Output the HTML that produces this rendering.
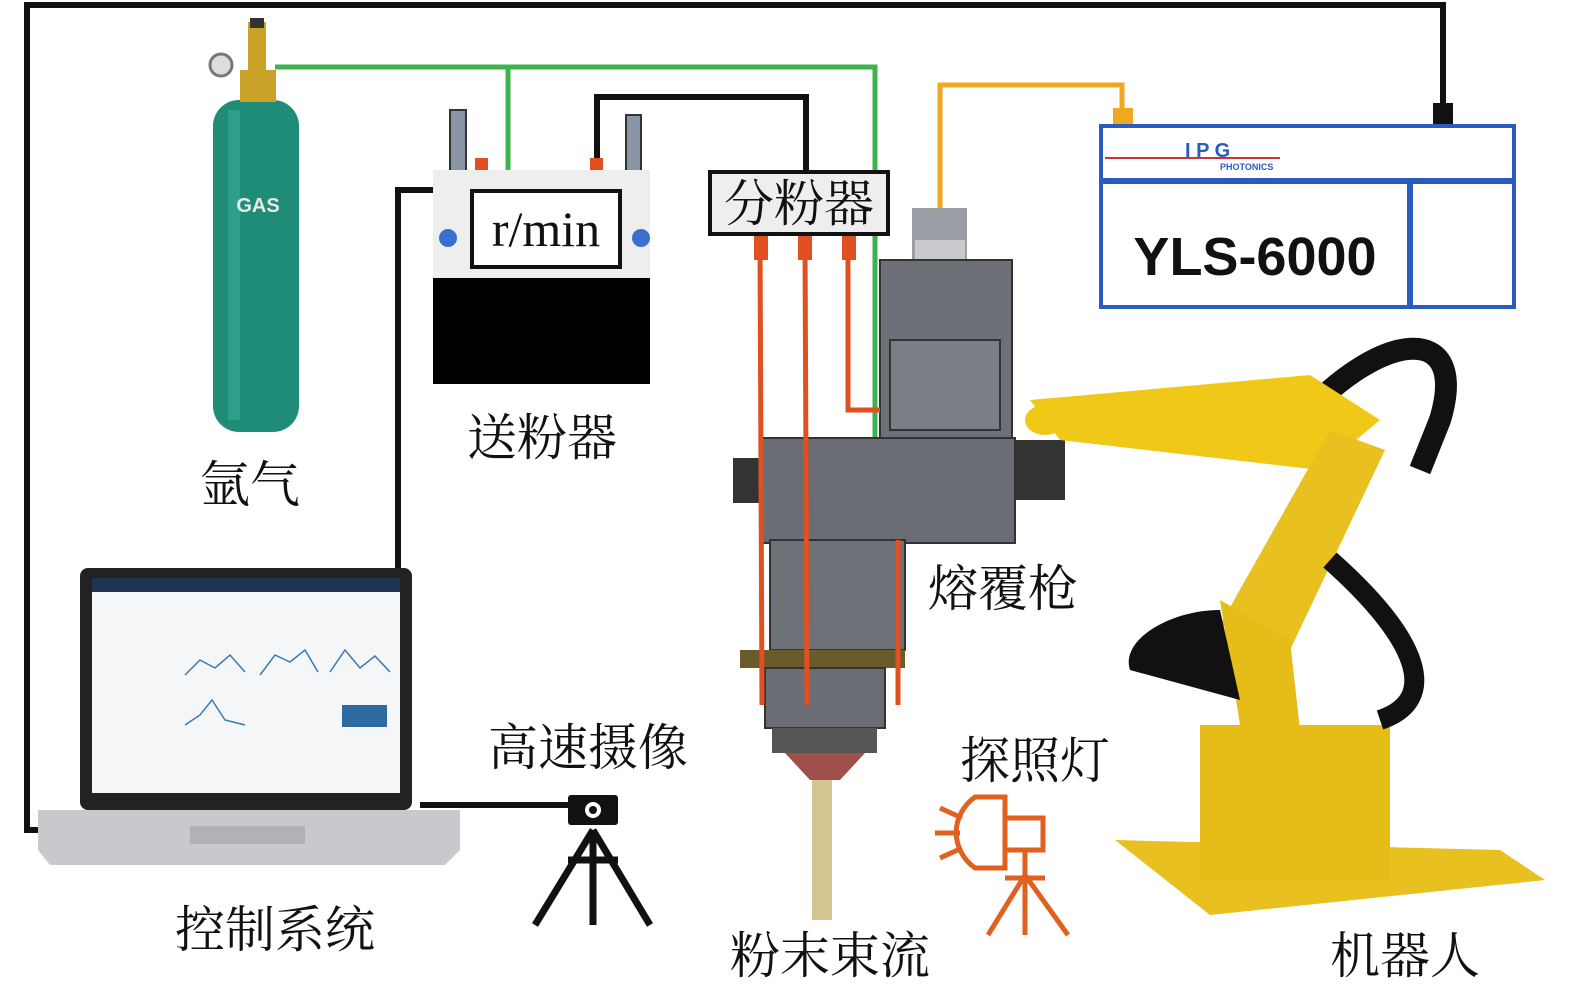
<!DOCTYPE html>
<html><head><meta charset="utf-8"><style>
html,body{margin:0;padding:0;background:#fff;width:1575px;height:993px;overflow:hidden}
svg{display:block}
.cn{font-family:"Liberation Serif","Noto Serif CJK SC",serif;font-size:50px;fill:#111}
</style></head><body>
<svg width="1575" height="993" viewBox="0 0 1575 993">
<polyline points="40,830 27,830 27,5 1443,5 1443,110" fill="none" stroke="#111" stroke-width="6"/>
<rect x="1433" y="103" width="20" height="22" fill="#111"/>
<rect x="213" y="100" width="86" height="332" rx="26" fill="#1f8c78"/>
<rect x="228" y="110" width="12" height="310" fill="#34a890" opacity="0.7"/>
<text x="258" y="212" font-family="Liberation Sans,sans-serif" font-weight="bold" font-size="20" fill="#e8e8e8" text-anchor="middle">GAS</text>
<rect x="240" y="70" width="36" height="32" fill="#c9a227"/>
<rect x="248" y="22" width="18" height="50" fill="#c9a227"/>
<rect x="250" y="18" width="14" height="10" fill="#333"/>
<circle cx="221" cy="65" r="11" fill="#ddd" stroke="#777" stroke-width="3"/>
<polyline points="275,67 875,67 875,700" fill="none" stroke="#3cb44b" stroke-width="5"/>
<line x1="508" y1="67" x2="508" y2="170" stroke="#3cb44b" stroke-width="5"/>
<polyline points="597,160 597,97 806,97 806,172" fill="none" stroke="#111" stroke-width="6"/>
<polyline points="398,570 398,190 433,190" fill="none" stroke="#111" stroke-width="6"/>
<rect x="450" y="110" width="16" height="62" fill="#8a96a8" stroke="#333" stroke-width="2"/>
<rect x="626" y="115" width="15" height="57" fill="#8a96a8" stroke="#333" stroke-width="2"/>
<rect x="475" y="158" width="13" height="14" fill="#e05020"/>
<rect x="590" y="158" width="13" height="14" fill="#e05020"/>
<rect x="433" y="170" width="217" height="110" fill="#eeeeee"/>
<rect x="433" y="278" width="217" height="106" fill="#000"/>
<rect x="472" y="191" width="148" height="76" fill="#fff" stroke="#111" stroke-width="4"/>
<text x="546" y="246" font-family="Liberation Serif,serif" font-size="50" text-anchor="middle" fill="#111">r/min</text>
<circle cx="448" cy="238" r="9" fill="#3a6fd0"/>
<circle cx="641" cy="238" r="9" fill="#3a6fd0"/>
<polyline points="940,210 940,85 1122,85 1122,112" fill="none" stroke="#f0a820" stroke-width="5"/>
<rect x="1113" y="108" width="20" height="18" fill="#f0a820"/>
<rect x="912" y="208" width="55" height="90" fill="#9a9ea4"/>
<rect x="915" y="240" width="50" height="55" fill="#c8cacc"/>
<rect x="880" y="260" width="132" height="180" fill="#6d7076" stroke="#333" stroke-width="2"/>
<rect x="890" y="340" width="110" height="90" fill="#7b7e84" stroke="#333" stroke-width="2"/>
<rect x="760" y="438" width="255" height="105" fill="#6a6d73" stroke="#333" stroke-width="2"/>
<rect x="733" y="458" width="30" height="45" fill="#333"/>
<rect x="1015" y="440" width="50" height="60" fill="#333"/>
<rect x="770" y="540" width="135" height="110" fill="#6e7177" stroke="#333" stroke-width="2"/>
<rect x="740" y="650" width="165" height="18" fill="#6b5a2a"/>
<rect x="765" y="668" width="120" height="60" fill="#6a6d73" stroke="#333" stroke-width="2"/>
<rect x="772" y="728" width="105" height="25" fill="#555"/>
<polygon points="785,753 865,753 840,780 810,780" fill="#a0504a"/>
<rect x="812" y="780" width="20" height="140" fill="#c8b878" opacity="0.8"/>
<g stroke="#e05020" stroke-width="5" fill="none">
<line x1="760" y1="240" x2="762" y2="705"/>
<line x1="805" y1="240" x2="807" y2="705"/>
<polyline points="848,240 848,410 880,410"/>
<line x1="898" y1="540" x2="898" y2="705"/>
</g>
<rect x="754" y="234" width="14" height="26" fill="#e05020"/>
<rect x="798" y="234" width="14" height="26" fill="#e05020"/>
<rect x="842" y="234" width="14" height="26" fill="#e05020"/>
<rect x="710" y="172" width="178" height="62" fill="#eee" stroke="#111" stroke-width="4"/>
<text x="799" y="221" class="cn" text-anchor="middle">分粉器</text>
<rect x="1101" y="126" width="413" height="181" fill="#fff" stroke="#2a5cc0" stroke-width="4"/>
<line x1="1101" y1="181" x2="1514" y2="181" stroke="#2a5cc0" stroke-width="6"/>
<line x1="1410" y1="181" x2="1410" y2="307" stroke="#2a5cc0" stroke-width="6"/>
<line x1="1105" y1="158" x2="1280" y2="158" stroke="#c33" stroke-width="2"/>
<text x="1185" y="157" font-family="Liberation Sans,sans-serif" font-weight="bold" font-size="20" fill="#2a5cc0">I  P  G</text>
<text x="1220" y="170" font-family="Liberation Sans,sans-serif" font-weight="bold" font-size="9" fill="#2a5cc0">PHOTONICS</text>
<text x="1255" y="275" font-family="Liberation Sans,sans-serif" font-weight="bold" font-size="54" fill="#111" text-anchor="middle">YLS-6000</text>
<!-- robot -->
<path d="M1300,420 C1380,330 1470,320 1440,420 L1420,470" fill="none" stroke="#111" stroke-width="22"/>
<polygon points="1115,840 1500,850 1545,880 1210,915" fill="#e8c020"/>
<rect x="1200" y="725" width="190" height="155" fill="#e6bc18"/>
<path d="M1030,400 L1310,375 L1380,420 L1320,470 L1060,440 Z" fill="#f0c818"/>
<path d="M1330,430 L1385,450 L1290,650 L1220,625 Z" fill="#e8c020"/>
<path d="M1220,600 L1290,640 L1300,730 L1240,725 Z" fill="#e6bc18"/>
<path d="M1220,610 C1170,610 1120,640 1130,670 L1240,700 Z" fill="#111"/>
<path d="M1330,560 C1420,640 1440,700 1380,720" fill="none" stroke="#111" stroke-width="20"/>
<ellipse cx="1045" cy="420" rx="20" ry="15" fill="#f0c818"/>
<rect x="80" y="568" width="332" height="242" rx="8" fill="#222"/>
<rect x="92" y="578" width="308" height="215" fill="#f4f6f8"/>
<rect x="92" y="578" width="308" height="14" fill="#1d3550"/>
<g fill="none" stroke="#3a7ab0" stroke-width="1.5">
<polyline points="185,675 200,660 215,668 230,655 245,672"/>
<polyline points="260,675 275,655 290,662 305,650 318,672"/>
<polyline points="330,672 345,650 360,668 375,656 390,672"/>
<polyline points="185,725 200,715 212,700 225,720 245,725"/>
</g>
<rect x="342" y="705" width="45" height="22" fill="#2d6a9f"/>
<polygon points="38,810 460,810 460,850 445,865 50,865 38,850" fill="#c8c9cc"/>
<rect x="190" y="826" width="115" height="18" fill="#b0b2b5"/>
<line x1="420" y1="805" x2="575" y2="805" stroke="#111" stroke-width="6"/>
<rect x="568" y="795" width="50" height="30" rx="3" fill="#111"/>
<circle cx="593" cy="810" r="8" fill="#fff"/><circle cx="593" cy="810" r="4" fill="#111"/>
<g stroke="#111" stroke-width="7" fill="none">
<line x1="593" y1="830" x2="593" y2="925"/>
<line x1="593" y1="830" x2="535" y2="925"/>
<line x1="593" y1="830" x2="650" y2="925"/>
<line x1="568" y1="860" x2="618" y2="860"/>
</g>
<g stroke="#e06020" stroke-width="5" fill="none">
<path d="M975,797 L1005,797 L1005,868 L975,868 C950,850 950,815 975,797 Z"/>
<rect x="1005" y="818" width="38" height="32"/>
<line x1="935" y1="833" x2="960" y2="833"/>
<line x1="940" y1="808" x2="962" y2="818"/>
<line x1="940" y1="858" x2="962" y2="848"/>
<line x1="1025" y1="850" x2="1025" y2="935"/>
<line x1="1025" y1="875" x2="988" y2="935"/>
<line x1="1025" y1="875" x2="1068" y2="935"/>
<line x1="1005" y1="878" x2="1045" y2="878"/>
</g>
<text x="250" y="502" class="cn" text-anchor="middle">氩气</text>
<text x="542" y="455" class="cn" text-anchor="middle">送粉器</text>
<text x="1003" y="606" class="cn" text-anchor="middle">熔覆枪</text>
<text x="588" y="765" class="cn" text-anchor="middle">高速摄像</text>
<text x="1035" y="778" class="cn" text-anchor="middle">探照灯</text>
<text x="275" y="947" class="cn" text-anchor="middle">控制系统</text>
<text x="830" y="973" class="cn" text-anchor="middle">粉末束流</text>
<text x="1405" y="973" class="cn" text-anchor="middle">机器人</text>
</svg>
</body></html>
